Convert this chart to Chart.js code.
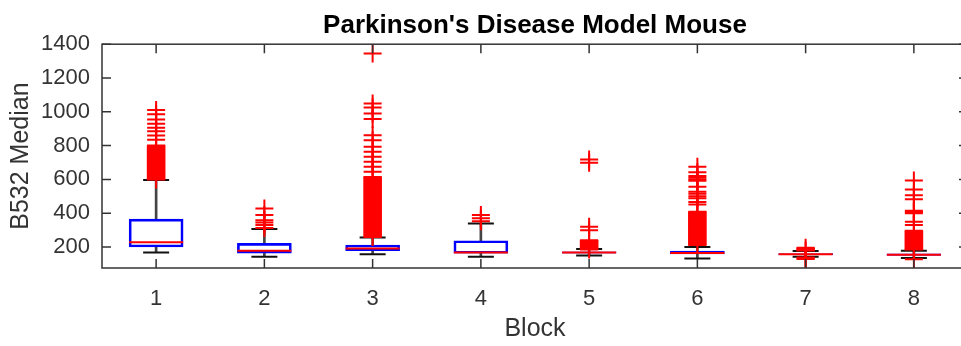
<!DOCTYPE html>
<html>
<head>
<meta charset="utf-8">
<script src="https://cdn.jsdelivr.net/npm/chart.js@4/dist/chart.umd.min.js"></script>
<style>
  html, body { margin: 0; padding: 0; overflow: hidden; background: #fff; }
</style>
</head>
<body>
<canvas id="myChart" width="970" height="346"></canvas>
<script>
// block numbers and box statistics
const blocks = [1, 2, 3, 4, 5, 6, 7, 8];
const q1 = [200, 163, 178, 163, 163, 160, 155, 150];
const q3 = [365, 222, 212, 237, 172, 176, 162, 160];
const medians = [228, 178, 192, 168, 167, 165, 158, 155];
const whiskerLo = [168, 143, 158, 143, 150, 132, 143, 135];
const whiskerHi = [596, 306, 257, 340, 188, 200, 176, 178];

// ranges where the outlier markers are so packed they form a solid band
const denseLo = [600, null, 260, null, 185, 212, 180, 185];
const denseHi = [800, null, 614, null, 240, 409, 196, 296];

// single outliers per block
const outliers1 = [600, 800, 835, 860, 885, 905, 930, 955, 985, 1010];
const outliers2 = [312, 330, 345, 358, 390, 428];
const outliers3 = [260, 614, 645, 675, 704, 734, 763, 793, 832, 862, 957, 990, 1026, 1049, 1345];
const outliers4 = [352, 370, 390];
const outliers5 = [185, 240, 300, 320, 698, 718];
const outliers6 = [212, 409, 452, 466, 488, 500, 515, 527, 556, 592, 600, 610, 621, 642, 675];
const outliers7 = [129, 133, 138, 180, 196];
const outliers8 = [128, 185, 296, 330, 349, 400, 407, 414, 482, 507, 541, 594];
const outliers = [outliers1, outliers2, outliers3, outliers4, outliers5, outliers6, outliers7, outliers8];

const xTicks = [1, 2, 3, 4, 5, 6, 7, 8];
const yTicks = [200, 400, 600, 800, 1000, 1200, 1400];

const axisColor = "#333";
const font = "'Liberation Sans', Arial, Helvetica, sans-serif";

// box frame with inward ticks (matlab style)
const frame = {
  id: "frame",
  afterDatasetsDraw(chart) {
    const { ctx, chartArea: a, scales } = chart;
    ctx.save();
    ctx.strokeStyle = axisColor;
    ctx.lineWidth = 1.5;
    ctx.strokeRect(a.left, a.top, a.right - a.left, a.bottom - a.top);
    ctx.beginPath();
    xTicks.forEach((v) => {
      const px = scales.x.getPixelForValue(v);
      ctx.moveTo(px, a.bottom);
      ctx.lineTo(px, a.bottom - 9);
      ctx.moveTo(px, a.top);
      ctx.lineTo(px, a.top + 9);
    });
    yTicks.forEach((v) => {
      const py = scales.y.getPixelForValue(v);
      ctx.moveTo(a.left, py);
      ctx.lineTo(a.left + 9, py);
      ctx.moveTo(a.right, py);
      ctx.lineTo(a.right - 9, py);
    });
    ctx.stroke();
    ctx.restore();
  },
};

const chart = new Chart(document.getElementById("myChart"), {
  type: "bar",
  data: {
    datasets: [
      {
        type: "scatter",
        label: "Outliers",
        data: outliers.flatMap((list, i) => list.map((v) => ({ x: blocks[i], y: v }))),
        pointStyle: "cross",
        pointRadius: 9,
        borderColor: "#ff0000",
        borderWidth: 2,
        order: 0,
      },
      {
        label: "Dense outliers",
        data: blocks
          .map((b, i) => ({ x: b, y: [denseLo[i], denseHi[i]] }))
          .filter((d) => d.y[0] !== null),
        backgroundColor: "#ff0000",
        barThickness: 18,
        grouped: false,
        order: 1,
      },
      {
        type: "scatter",
        label: "Median",
        data: blocks.map((b, i) => ({ x: b, y: medians[i] })),
        pointStyle: "line",
        pointRadius: 27,
        borderColor: "#ff0000",
        borderWidth: 2,
        order: 2,
      },
      {
        label: "Box",
        data: blocks.map((b, i) => ({ x: b, y: [q1[i], q3[i]] })),
        backgroundColor: "rgba(255,255,255,0)",
        borderColor: "#0000ff",
        borderWidth: 2,
        borderSkipped: false,
        barThickness: 54,
        grouped: false,
        order: 3,
      },
      {
        type: "scatter",
        label: "Whisker caps",
        data: blocks.flatMap((b, i) => [
          { x: b, y: whiskerLo[i] },
          { x: b, y: whiskerHi[i] },
        ]),
        pointStyle: "line",
        pointRadius: 13,
        borderColor: "#111",
        borderWidth: 2,
        order: 4,
      },
      {
        label: "Upper whisker",
        data: blocks.map((b, i) => ({ x: b, y: [q3[i], whiskerHi[i]] })),
        backgroundColor: "#444",
        barThickness: 2,
        grouped: false,
        order: 5,
      },
      {
        label: "Lower whisker",
        data: blocks.map((b, i) => ({ x: b, y: [whiskerLo[i], q1[i]] })),
        backgroundColor: "#444",
        barThickness: 2,
        grouped: false,
        order: 5,
      },
    ],
  },
  options: {
    responsive: false,
    devicePixelRatio: 1,
    animation: false,
    events: [],
    layout: { autoPadding: false, padding: { left: 0, right: 2, top: 0, bottom: 0 } },
    plugins: {
      legend: { display: false },
      tooltip: { enabled: false },
      title: {
        display: true,
        text: "Parkinson's Disease Model Mouse",
        color: "#000",
        fullSize: false,
        font: { family: font, size: 26, weight: "bold", lineHeight: 1.2 },
        padding: { top: 10, bottom: 3 },
      },
    },
    scales: {
      x: {
        type: "linear",
        min: 0.5,
        max: 8.5,
        offset: false,
        grid: { display: false, drawTicks: false },
        border: { display: false },
        afterBuildTicks: (scale) => {
          scale.ticks = xTicks.map((v) => ({ value: v }));
        },
        afterFit: (scale) => {
          scale.height = 78;
        },
        ticks: {
          color: axisColor,
          padding: 18,
          font: { family: font, size: 22 },
          maxRotation: 0,
        },
        title: {
          display: true,
          text: "Block",
          color: axisColor,
          font: { family: font, size: 25, lineHeight: 1.2 },
          padding: { top: 0, bottom: 2 },
        },
      },
      y: {
        type: "linear",
        min: 76,
        max: 1400,
        grid: { display: false, drawTicks: false },
        border: { display: false },
        afterBuildTicks: (scale) => {
          scale.ticks = yTicks.map((v) => ({ value: v }));
        },
        afterFit: (scale) => {
          scale.width = 102;
        },
        ticks: {
          color: axisColor,
          padding: 12,
          font: { family: font, size: 22 },
          callback: (v) => String(v),
        },
        title: {
          display: true,
          text: "B532 Median",
          color: axisColor,
          font: { family: font, size: 25, lineHeight: 1.2 },
          padding: { top: 6, bottom: 0 },
        },
      },
    },
  },
  plugins: [frame],
});
</script>
</body>
</html>
